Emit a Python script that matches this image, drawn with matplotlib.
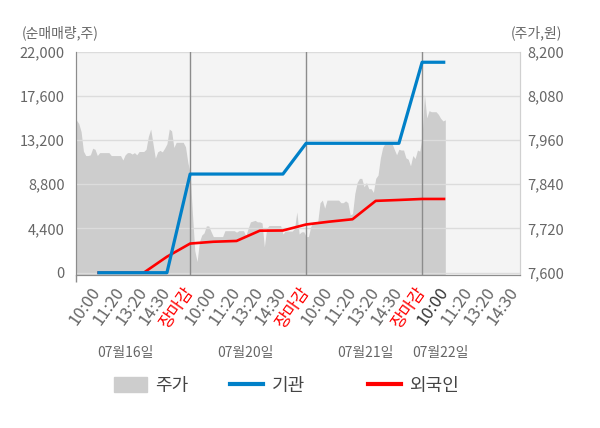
import numpy as np
import matplotlib.pyplot as plt
import matplotlib.transforms as mtrans
from matplotlib.patches import Patch
from matplotlib.lines import Line2D

plt.rcParams['font.family'] = ['Noto Sans CJK KR', 'DejaVu Sans']

# 주가 (하루를 50구간으로, 마지막 날은 장중)
price_d1 = [8014, 8014, 8005, 7983, 7930, 7918, 7918, 7920, 7938, 7935,
            7918, 7926, 7926, 7926, 7926, 7926, 7918, 7918, 7918, 7918,
            7918, 7906, 7920, 7926, 7926, 7922, 7926, 7920, 7929, 7929,
            7929, 7935, 7970, 7990, 7950, 7911, 7928, 7932, 7928, 7938,
            7950, 7990, 7985, 7940, 7954, 7954, 7954, 7954, 7942, 7900]
price_d2 = [7870, 7760, 7660, 7630, 7684, 7702, 7708, 7727, 7727, 7712,
            7698, 7698, 7698, 7698, 7698, 7714, 7714, 7714, 7714, 7714,
            7710, 7714, 7714, 7714, 7700, 7720, 7738, 7740, 7742, 7738,
            7738, 7735, 7670, 7720, 7728, 7728, 7728, 7728, 7728, 7728,
            7705, 7713, 7713, 7713, 7713, 7720, 7765, 7705, 7711, 7711]
price_d3 = [7698, 7698, 7725, 7738, 7738, 7738, 7790, 7797, 7775, 7797,
            7797, 7797, 7797, 7797, 7797, 7790, 7790, 7795, 7790, 7757,
            7760, 7815, 7845, 7856, 7856, 7833, 7845, 7828, 7828, 7818,
            7856, 7865, 7911, 7940, 7951, 7951, 7951, 7951, 7935, 7920,
            7935, 7933, 7933, 7912, 7908, 7890, 7918, 7910, 7933, 7930]
price_d4 = [7970, 8085, 8020, 8040, 8037, 8037, 8037, 8030, 8019, 8012, 8015]

# 누적 순매매량 (시간대별)
inst = [0, 0, 0, 0, 9820, 9820, 9820, 9820, 9820,
        12880, 12880, 12880, 12880, 12880, 20950, 20950]
foreign = [0, 0, 0, 1590, 2900, 3080, 3160, 4180, 4200,
           4800, 5080, 5320, 7150, 7240, 7340, 7340]

slot_labels = ['10:00', '11:20', '13:20', '14:30', '장마감']
dates = ['07월16일', '07월20일', '07월21일', '07월22일']
date_pos = [2.2, 7.37, 12.54, 15.78]

XMIN, XMAX = 0.08, 19.22

fig = plt.figure(figsize=(6, 4.28), dpi=100)
ax = fig.add_axes([76 / 600, 1 - 274.7 / 428, 444 / 600, 223 / 428])
ax2 = ax.twinx()
ax.yaxis.tick_right()
ax2.yaxis.tick_left()

ax.set_facecolor('#f4f4f4')

# 주가 영역
days = [price_d1, price_d2, price_d3, price_d4]
xs, ys = [], []
for k, d in enumerate(days):
    xs.extend(5 * k + np.arange(len(d)) * 0.1)
    ys.extend(d)
ax.fill_between(xs, ys, 7594.5, color='#cdcdcd', lw=0, zorder=1)
ax.set_ylim(7594.5, 8200)
ax.set_yticks(np.arange(7600, 8201, 120))
ax.set_yticklabels([f'{v:,}' for v in range(7600, 8201, 120)])
ax.set_axisbelow(False)
ax.grid(axis='y', color='#dcdcdc', lw=1)
for s in [5, 10, 15]:
    ax.axvline(s, color='#8c8c8c', lw=1, zorder=2.6)

# 순매매량
t = np.arange(1, len(inst) + 1)
ax2.plot(t, foreign, color='#ff0000', lw=1.9, solid_capstyle='butt')
ax2.plot(t, inst, color='#0080c8', lw=2.3, solid_capstyle='butt')
ax2.set_ylim(-200, 22000)
ax2.set_yticks(np.arange(0, 22001, 4400))
ax2.set_yticklabels([f'{v:,}' for v in range(0, 22001, 4400)])

ax.set_xlim(XMIN, XMAX)
pos, labs = [], []
for k in range(4):
    for j, lab in enumerate(slot_labels):
        p = 5 * k + j + 1
        if p <= XMAX:
            pos.append(p)
            labs.append(lab)
ax.set_xticks(pos)
ax.set_xticklabels(labs, rotation=55, ha='right', va='center',
                   rotation_mode='anchor')
for p, tl in zip(pos, ax.get_xticklabels()):
    if tl.get_text() == '장마감':
        tl.set_color('red')
    elif p == 16:
        tl.set_color('#333333')
    else:
        tl.set_color('#666666')
ax.tick_params(axis='x', length=0, pad=10, labelsize=12)
ax.set_xticks([XMIN, 5, 10, 15], minor=True)
ax.tick_params(axis='x', which='minor', length=5, color='#8c8c8c', width=1)

ax.tick_params(axis='y', length=0, pad=5, labelsize=10.5, labelcolor='#666666')
ax2.tick_params(axis='y', length=0, pad=8, labelsize=10.5, labelcolor='#666666')

for a in (ax, ax2):
    a.spines['top'].set_visible(False)
    a.spines['left'].set_color('#8c8c8c')
    a.spines['bottom'].set_color('#8c8c8c')
    a.spines['right'].set_color('#d0d0d0')

tr = mtrans.blended_transform_factory(ax.transData, fig.transFigure)
for d, p in zip(dates, date_pos):
    ax.text(p, 1 - 353.5 / 428, d, transform=tr,
            ha='center', va='center', fontsize=10, color='#666666')

fig.text(22 / 600, 1 - 33 / 428, '(순매매량,주)', ha='left', va='center',
         fontsize=10, color='#666666')
fig.text(562 / 600, 1 - 33 / 428, '(주가,원)', ha='right', va='center',
         fontsize=10, color='#666666')

handles = [Patch(color='#cdcdcd', label='주가'),
           Line2D([], [], color='#0080c8', lw=3, label='기관'),
           Line2D([], [], color='#ff0000', lw=3, label='외국인')]
starts = [114, 230, 368]
for h, x0 in zip(handles, starts):
    fig.legend(handles=[h], loc='center left',
               bbox_to_anchor=(x0 / 600, 1 - 385.7 / 428),
               frameon=False, fontsize=13, borderpad=0, borderaxespad=0,
               handlelength=1.8, handleheight=0.85, handletextpad=0.5,
               labelcolor='#444444')

fig.savefig('out.png', dpi=100)
